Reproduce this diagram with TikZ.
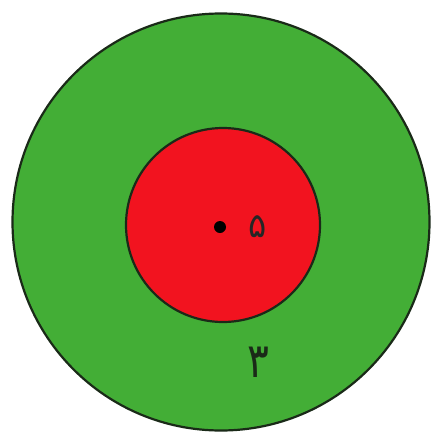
\documentclass[tikz,border=0pt]{standalone}
\usepackage{fontspec}
\usepackage{tikz}
\usetikzlibrary{positioning}
\newfontfamily\arabicfont[Script=Arabic]{DejaVu Sans}
\TeXXeTstate=1
\definecolor{ringgreen}{HTML}{43AE36}
\definecolor{corered}{HTML}{F2131F}
\definecolor{edgedark}{HTML}{1A2A18}
\tikzset{
    disc/.style={circle, draw=edgedark, line width=2.2pt, inner sep=0pt},
    greendisc/.style={disc, fill=ringgreen},
    reddisc/.style={disc, fill=corered},
    centerdot/.style={circle, fill=black, inner sep=0pt, minimum size=12pt},
    digit/.style={font=\arabicfont, text=black!85, inner sep=0pt}
}
\begin{document}
\begin{tikzpicture}[x=1pt, y=-1pt]
    \useasboundingbox (0,0) rectangle (436,439);
    \node[greendisc, minimum size=417pt] (outer) at (221,222) {};
    \node[reddisc, minimum size=194pt] (inner) at (223,225) {};
    \node[centerdot] (center) at (220,227) {};
    \node[digit, font=\arabicfont\fontsize{34}{40}\selectfont, right=22pt of center] (five) {\beginR ۵\endR};
    \node[digit, text=edgedark, font=\arabicfont\fontsize{48}{56}\selectfont, xscale=0.85] (three) at (258,362) {\beginR ۳\endR};
\end{tikzpicture}
\end{document}
